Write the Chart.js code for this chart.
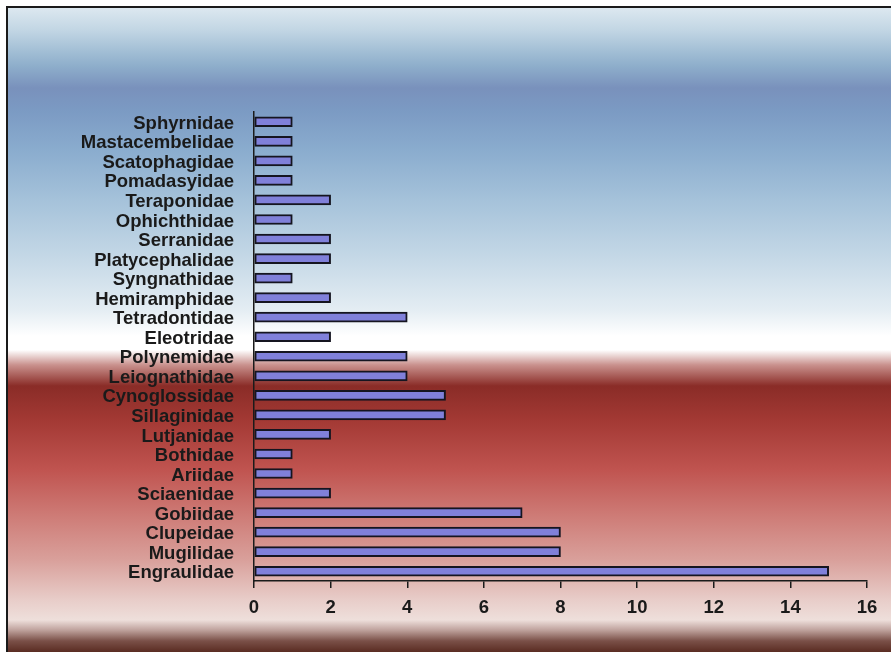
<!DOCTYPE html>
<html>
<head>
<meta charset="utf-8">
<script src="https://cdn.jsdelivr.net/npm/chart.js@4"></script>
<style>
  html, body { margin: 0; padding: 0; background: #fff; }
  #wrap { width: 891px; height: 652px; position: relative; }
</style>
</head>
<body>
<div id="wrap"><canvas id="myChart" width="891" height="652"></canvas></div>
<script>
// families, top to bottom as in the picture
const families = ['Sphyrnidae', 'Mastacembelidae', 'Scatophagidae', 'Pomadasyidae', 'Teraponidae',
    'Ophichthidae', 'Serranidae', 'Platycephalidae', 'Syngnathidae', 'Hemiramphidae',
    'Tetradontidae', 'Eleotridae', 'Polynemidae', 'Leiognathidae', 'Cynoglossidae',
    'Sillaginidae', 'Lutjanidae', 'Bothidae', 'Ariidae', 'Sciaenidae',
    'Gobiidae', 'Clupeidae', 'Mugilidae', 'Engraulidae'];
const counts = [1, 1, 1, 1, 2,
    1, 2, 2, 1, 2,
    4, 2, 4, 4, 5,
    5, 2, 1, 1, 2,
    7, 8, 8, 15];
const xTicks = [0, 2, 4, 6, 8, 10, 12, 14, 16];

// backdrop gradient + frame
const backdrop = {
    id: 'backdrop',
    beforeDraw: function (chart) {
        const ctx = chart.ctx;
        const h = chart.height;
        const g = ctx.createLinearGradient(0, 8, 0, h);
        const stops = [
            [9, '#dbe7ef'], [30, '#c2d6e4'], [50, '#a4c0d6'], [66, '#8eaecb'],
            [88, '#7991bc'], [110, '#7b9ac3'], [150, '#8aacce'], [200, '#a5c2da'],
            [260, '#c6d9e7'], [310, '#e4edf3'], [336, '#ffffff'], [350, '#ffffff'],
            [365, '#c9918d'], [386, '#8a2c27'], [420, '#a33934'], [470, '#c05450'],
            [520, '#cf7f7a'], [560, '#d9a09b'], [600, '#e8cdc9'], [620, '#eedfdb'],
            [630, '#bfa29d'], [641, '#7a5048'], [652, '#5a2c22']
        ];
        stops.forEach(function (s) { g.addColorStop((s[0] - 8) / (h - 8), s[1]); });
        ctx.save();
        ctx.fillStyle = g;
        ctx.fillRect(7, 7, chart.width - 7, h - 7);
        ctx.strokeStyle = '#1a1a1a';
        ctx.lineWidth = 2;
        ctx.beginPath();
        ctx.moveTo(7, h);
        ctx.lineTo(7, 7);
        ctx.lineTo(chart.width, 7);
        ctx.stroke();
        ctx.restore();
    }
};

new Chart(document.getElementById('myChart'), {
    type: 'bar',
    data: {
        labels: families,
        datasets: [{
            data: counts,
            backgroundColor: '#8080da',
            borderColor: '#151520',
            borderWidth: 2,
            borderSkipped: false,
            barThickness: 10
        }]
    },
    options: {
        indexAxis: 'y',
        responsive: false,
        animation: false,
        layout: { padding: { left: 0, right: 24, top: 112, bottom: 28 } },
        plugins: {
            legend: { display: false },
            tooltip: { enabled: false }
        },
        scales: {
            x: {
                min: 0,
                max: 16,
                afterBuildTicks: function (axis) {
                    axis.ticks = xTicks.map(function (v) { return { value: v }; });
                },
                afterFit: function (axis) { axis.height = 43; },
                grid: {
                    drawOnChartArea: false,
                    drawTicks: true,
                    tickLength: 7,
                    color: '#1a1a1a',
                    lineWidth: 1.5
                },
                border: { display: true, color: '#1a1a1a', width: 1.5 },
                ticks: {
                    color: '#1a1a1a',
                    padding: 9,
                    font: { family: 'Liberation Sans, Arial, sans-serif', size: 18.5, weight: 'bold' }
                }
            },
            y: {
                afterFit: function (axis) { axis.width = 254; },
                grid: { display: false, drawTicks: false },
                border: { display: true, color: '#1a1a1a', width: 1.5 },
                ticks: {
                    color: '#1a1a1a',
                    padding: 20,
                    labelOffset: 2,
                    autoSkip: false,
                    font: { family: 'Liberation Sans, Arial, sans-serif', size: 18.5, weight: 'bold' }
                }
            }
        }
    },
    plugins: [backdrop]
});
</script>
</body>
</html>
